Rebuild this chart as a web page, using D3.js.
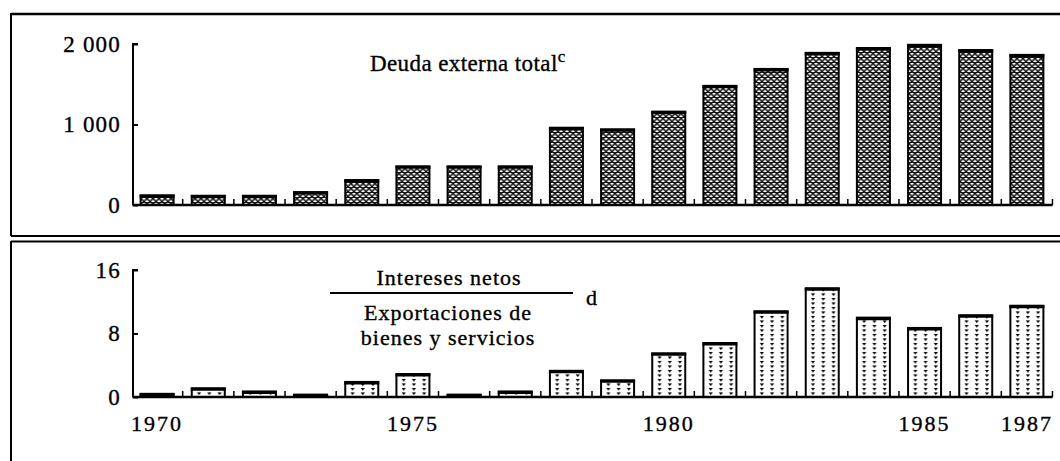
<!DOCTYPE html>
<html>
<head>
<meta charset="utf-8">
<script src="https://cdn.jsdelivr.net/npm/d3@7"></script>
<style>
  body { margin: 0; background: #fff; }
  svg text { font-family: "Liberation Serif", "DejaVu Serif", serif; fill: #000; stroke: #000; stroke-width: 0.35px; }
</style>
</head>
<body>
<svg id="chart" width="1060" height="461"></svg>
<script>
const years = d3.range(1970, 1988)

// deuda externa total (millones de dolares)
const deuda = [120, 115, 115, 160, 310, 480, 480, 480, 960, 940, 1160, 1480, 1690, 1890, 1950, 1990, 1925, 1865]

// intereses netos / exportaciones de bienes y servicios (%)
const intereses = [0.4, 1.1, 0.7, 0.3, 1.9, 2.9, 0.3, 0.7, 3.3, 2.1, 5.5, 6.8, 10.8, 13.7, 10.0, 8.7, 10.3, 11.5]

const deudaTicks = [0, 1000, 2000]
const interesesTicks = [0, 8, 16]
const yearLabels = [1970, 1975, 1980, 1985, 1987]

const svg = d3.select('#chart')
const fmt = d => d3.format(',')(d).replace(',', ' ')

const x = d3.scaleBand()
	.domain(years)
	.range([131.4, 1052.6])
	.paddingInner(0.355)
	.paddingOuter(0.18)

const step = x.step()

const defs = svg.append('defs')

// mesh texture for top bars
const mesh = defs.append('pattern')
	.attr('id', 'mesh')
	.attr('patternUnits', 'userSpaceOnUse')
	.attr('width', 6)
	.attr('height', 5)
mesh.append('rect').attr('width', 6).attr('height', 5).attr('fill', '#fff')
mesh.selectAll('ellipse')
	.data([[3, 1.25], [0, 3.75], [6, 3.75]])
	.join('ellipse')
	.attr('cx', d => d[0]).attr('cy', d => d[1])
	.attr('rx', 2.4).attr('ry', 1.5)
	.attr('fill', 'none').attr('stroke', '#000').attr('stroke-width', 1.1)

// dashed columns for bottom bars
const dots = defs.append('pattern')
	.attr('id', 'dots')
	.attr('patternUnits', 'userSpaceOnUse')
	.attr('x', x(1970))
	.attr('width', step / 5)
	.attr('height', 4.5)
dots.append('rect').attr('width', step / 5).attr('height', 4.5).attr('fill', '#fff')
dots.append('path')
	.attr('d', 'M5.2,0.8 h4.2 l-2.1,2.8 z')
	.attr('fill', '#000')

// frame
const frame = svg.append('g').attr('stroke', '#000').attr('fill', 'none')
frame.append('line').attr('x1', 11).attr('x2', 1060).attr('y1', 14).attr('y2', 14).attr('stroke-width', 2.5)
frame.append('line').attr('x1', 11).attr('x2', 11).attr('y1', 13).attr('y2', 236).attr('stroke-width', 2)
frame.append('line').attr('x1', 11).attr('x2', 1060).attr('y1', 236).attr('y2', 236).attr('stroke-width', 2)
frame.append('line').attr('x1', 11).attr('x2', 1060).attr('y1', 241.5).attr('y2', 241.5).attr('stroke-width', 2)
frame.append('line').attr('x1', 11).attr('x2', 11).attr('y1', 241).attr('y2', 461).attr('stroke-width', 2)

const drawPanel = (data, ticks, yRange, fill) => {

	const y = d3.scaleLinear()
		.domain([0, ticks[ticks.length - 1]])
		.range(yRange)

	const g = svg.append('g')

	g.selectAll('.bar')
		.data(data)
		.join('rect')
		.attr('class', 'bar')
		.attr('x', (d, i) => x(years[i]))
		.attr('y', d => y(d))
		.attr('width', x.bandwidth())
		.attr('height', d => y(0) - y(d))
		.attr('fill', fill)
		.attr('stroke', '#000')
		.attr('stroke-width', 2)

	// heavy top edge
	g.selectAll('.cap')
		.data(data)
		.join('line')
		.attr('x1', (d, i) => x(years[i]) - 1)
		.attr('x2', (d, i) => x(years[i]) + x.bandwidth() + 1)
		.attr('y1', d => y(d) + 1)
		.attr('y2', d => y(d) + 1)
		.attr('stroke', '#000')
		.attr('stroke-width', 3)

	// y axis
	const yAxis = g.append('g')
		.attr('transform', `translate(${x.range()[0] + 1.6},0)`)
		.call(d3.axisRight(y).tickValues(ticks).tickSize(5).tickFormat(''))
	yAxis.select('.domain').attr('stroke-width', 2).attr('d', `M5,${y.range()[1]}H0V${y.range()[0]}`)
	yAxis.selectAll('.tick line').attr('stroke-width', 2)

	g.selectAll('.ylab')
		.data(ticks)
		.join('text')
		.attr('class', 'ylab')
		.attr('x', 121)
		.attr('y', d => y(d))
		.attr('dy', '0.33em')
		.attr('text-anchor', 'end')
		.style('font-size', '23px')
		.style('letter-spacing', '1.2px')
		.text(fmt)

	// x baseline with small ticks between bars
	g.append('line')
		.attr('x1', x.range()[0] + 1).attr('x2', x.range()[1])
		.attr('y1', y(0)).attr('y2', y(0))
		.attr('stroke', '#000').attr('stroke-width', 2.5)

	g.selectAll('.xtick')
		.data(years)
		.join('line')
		.attr('class', 'xtick')
		.attr('x1', d => x(d) + x.bandwidth() + (step - x.bandwidth()) / 2)
		.attr('x2', d => x(d) + x.bandwidth() + (step - x.bandwidth()) / 2)
		.attr('y1', y(0))
		.attr('y2', y(0) - 6)
		.attr('stroke', '#000').attr('stroke-width', 1.5)

	return y
}

drawPanel(deuda, deudaTicks, [205, 44], 'url(#mesh)')
drawPanel(intereses, interesesTicks, [397, 270], 'url(#dots)')

// year labels
svg.selectAll('.xlab')
	.data(yearLabels)
	.join('text')
	.attr('class', 'xlab')
	.attr('x', d => x(d) + x.bandwidth() / 2)
	.attr('y', 431)
	.attr('text-anchor', 'middle')
	.style('font-size', '22px')
	.style('letter-spacing', '2px')
	.text(d => d)

// titles
const t1 = svg.append('text')
	.attr('x', 370)
	.attr('y', 71)
	.style('font-size', '23px')
	.style('letter-spacing', '0.4px')
t1.append('tspan').text('Deuda externa total')
t1.append('tspan').attr('dy', -9).style('font-size', '17px').text('c')

const label = svg.append('g').style('font-size', '22px').style('letter-spacing', '1px')

label.append('text')
	.attr('x', 449).attr('y', 285)
	.attr('text-anchor', 'middle')
	.text('Intereses netos')

label.append('line')
	.attr('x1', 330).attr('x2', 573)
	.attr('y1', 293).attr('y2', 293)
	.attr('stroke', '#000').attr('stroke-width', 2)

label.append('text')
	.attr('x', 586).attr('y', 305)
	.text('d')

label.append('text')
	.attr('x', 448).attr('y', 320)
	.attr('text-anchor', 'middle')
	.text('Exportaciones de')

label.append('text')
	.attr('x', 448).attr('y', 345)
	.attr('text-anchor', 'middle')
	.text('bienes y servicios')
</script>
</body>
</html>
